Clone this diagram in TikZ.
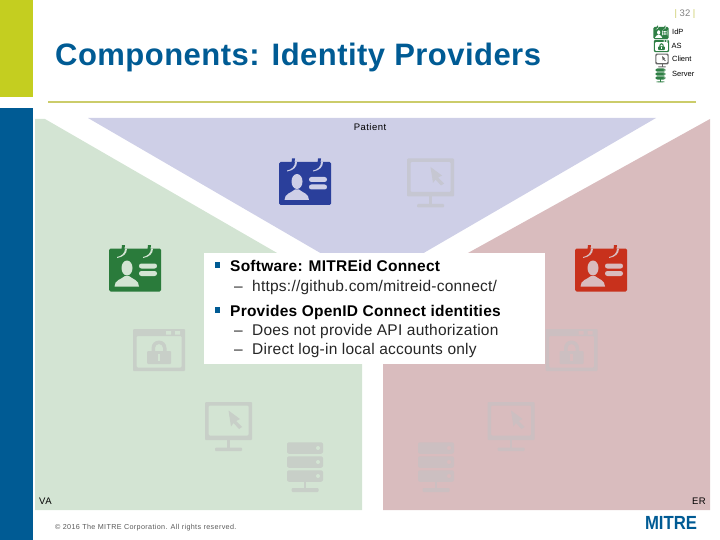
\documentclass[tikz,border=0pt]{standalone}
\usepackage{fontspec}
\setmainfont{Liberation Sans}
\newfontfamily\spacedfont[LetterSpace=1.5]{Liberation Sans}
\newfontfamily\smallfont[LetterSpace=5]{Liberation Sans}
\definecolor{mitreblue}{HTML}{005B94}
\definecolor{mitreolive}{HTML}{C4CE20}
\definecolor{ruleolive}{HTML}{CBCC6A}
\definecolor{vagreen}{HTML}{D3E4D3}
\definecolor{ptblue}{HTML}{CECFE7}
\definecolor{errose}{HTML}{D9BCBE}
\definecolor{idpgreen}{HTML}{2A7B3B}
\definecolor{idpblue}{HTML}{2A3F9B}
\definecolor{idpred}{HTML}{C8311C}
\definecolor{fadegreen}{HTML}{C8CFC8}
\definecolor{fadeblue}{HTML}{C6C7D2}
\definecolor{faderose}{HTML}{CCBFC1}
\definecolor{legendgreen}{HTML}{2F7F45}
\tikzset{
pics/badge/.style 2 args={code={
 \fill[#1,rounded corners=1.5] (-26,-21.5) rectangle (26,21.5);
 \foreach \cx in {-13,13}{
  \fill[#2] (\cx+3,-21.5) .. controls (\cx+3,-17) and (\cx,-14) .. (\cx-5,-13) -- (\cx-5,-12) .. controls (\cx+1,-13) and (\cx+5,-16) .. (\cx+5,-21.5) -- cycle;
  \fill[#1] (\cx,-25) -- (\cx+3,-25) .. controls (\cx+3,-19) and (\cx,-16) .. (\cx-5,-15) .. controls (\cx-2,-17) and (\cx,-20) .. (\cx,-25) -- cycle;
 }
 \fill[#2] (-8,-2) ellipse (5.5 and 7.5);
 \fill[#2] (-20.5,16.5) .. controls (-20.5,10) and (-14,9.5) .. (-10,6) -- (-6,6) .. controls (-2,9.5) and (4,10) .. (4,16.5) -- cycle;
 \fill[#2,rounded corners=2.4] (4,-6.5) rectangle (22,-1.5);
 \fill[#2,rounded corners=2.4] (4,1) rectangle (22,6);
}},
pics/monitor/.style 2 args={code={
 \fill[#1,even odd rule,rounded corners=1] (-23.5,-19) rectangle (23.5,19) (-20,-15.5) rectangle (20,14.5);
 \fill[#1] (-1.2,19) rectangle (1.2,29);
 \fill[#1,rounded corners=1] (-13.5,26.5) rectangle (13.5,30);
 \fill[#1] (0,-10.5) -- (11.5,-2) -- (7.5,0) -- (13.5,6) -- (10.5,8) -- (5,2) -- (2.5,5.5) -- cycle;
}},
pics/lockwin/.style 2 args={code={
 \fill[#1,even odd rule,rounded corners=1] (-26,-21) rectangle (26,21) (-22.5,-14) rectangle (22.5,17.5);
 \fill[#2] (7,-19) rectangle (12,-15.5) (16,-19) rectangle (21,-15.5);
 \fill[#1,even odd rule] (-7.5,-2) arc (180:360:7.5) -- (7.5,3) -- (-7.5,3) -- cycle (-4,-2) arc (180:360:4) -- (4,3) -- (-4,3) -- cycle;
 \fill[#1,rounded corners=1] (-12,1) rectangle (12,14);
 \fill[#2] (-1.2,4) rectangle (1.2,11);
}},
pics/rack/.style 2 args={code={
 \foreach \ry in {-14,0,14}{
  \fill[#1,rounded corners=2] (-18,\ry-5.75) rectangle (18,\ry+5.75);
  \fill[#2] (13,\ry) circle (2);
 }
 \fill[#1] (-1.2,19.5) rectangle (1.2,28);
 \fill[#1,rounded corners=1] (-13.5,26) rectangle (13.5,30);
}}
}
\begin{document}
\begin{tikzpicture}[x=1pt,y=-1pt,
site/.style={font=\smallfont\fontsize{9.5}{11}\selectfont,inner sep=0pt},
legend/.style={font=\fontsize{7.5}{9}\selectfont,inner sep=0pt,anchor=west},
lead/.style={font=\spacedfont\fontsize{15.5}{17}\selectfont\bfseries,inner sep=0pt,anchor=base west},
sub/.style={font=\spacedfont\fontsize{15.5}{17}\selectfont,text=black!85,inner sep=0pt,anchor=base west}
]
\useasboundingbox (0,0) rectangle (720,540);

\fill[mitreolive] (0,0) rectangle (33,97);
\fill[mitreblue] (0,108) rectangle (33,540);
\fill[ruleolive] (48,101) rectangle (696,103);

\fill[vagreen] (35,119) -- (45,119) -- (362,302) -- (362,510) -- (35,510) -- cycle;
\fill[ptblue] (88,118) -- (656,118) -- (372,283) -- cycle;
\fill[errose] (710,119) -- (710,510) -- (383,510) -- (383,300) -- cycle;

\pic at (305,183.5) {badge={idpblue}{ptblue}};
\pic at (430.5,177.5) {monitor={fadeblue}{ptblue}};
\pic at (135,270) {badge={idpgreen}{vagreen}};
\pic at (159,350) {lockwin={fadegreen}{vagreen}};
\pic at (228.5,421) {monitor={fadegreen}{vagreen}};
\pic at (305,462) {rack={fadegreen}{vagreen}};
\pic at (601,270) {badge={idpred}{errose}};
\pic at (571.5,350) {lockwin={faderose}{errose}};
\pic at (511,421) {monitor={faderose}{errose}};
\pic at (436,462) {rack={faderose}{errose}};

\fill[white] (204,253) rectangle (545,364);
\fill[mitreblue] (215,262) rectangle (220,268);
\fill[mitreblue] (215,307) rectangle (220,313);

\node[lead](software) at (230,271){Software: MITREid Connect};
\node[sub](dash1) at (234,291){–};
\node[sub](url) at (252,291){https://github.com/mitreid-connect/};
\node[lead](provides) at (230,316){Provides OpenID Connect identities};
\node[sub](dash2) at (234,335){–};
\node[sub](noapi) at (252,335){Does not provide API authorization};
\node[sub](dash3) at (234,354){–};
\node[sub](direct) at (252,354){Direct log-in local accounts only};

\node[anchor=base west,inner sep=0pt,text=mitreblue,font=\spacedfont\fontsize{31}{33}\selectfont\bfseries](title) at (55,66){Components: Identity Providers};
\node[inner sep=0pt,font=\fontsize{9.5}{11}\selectfont,text=black!50](pagenum) at (685,14){\textcolor{ruleolive}{|} 32 \textcolor{ruleolive}{|}};

\pic[scale=.29] at (661,33) {badge={legendgreen}{white}};
\pic[scale=.29] at (661.5,46) {lockwin={legendgreen}{white}};
\pic[scale=.28] at (662,59) {monitor={black!60}{white}};
\pic[scale=.28] at (660.5,74) {rack={legendgreen}{white}};
\node[legend](legend-idp) at (672,32){IdP};
\node[legend](legend-as) at (671.5,46){AS};
\node[legend](legend-client) at (672,59){Client};
\node[legend](legend-server) at (672,74){Server};

\node[site](patient) at (370,127){Patient};
\node[site,anchor=west](va) at (39,501.5){VA};
\node[site,anchor=east](er) at (706,501.5){ER};

\node[anchor=west,inner sep=0pt,text=black!65,font=\smallfont\fontsize{7.2}{9}\selectfont](copyright) at (55,528){© 2016 The MITRE Corporation. All rights reserved.};
\node[inner sep=0pt,text=mitreblue,font=\fontsize{19}{20}\selectfont\bfseries](logo) at (671,523){\scalebox{.88}[1]{MITRE}};
\end{tikzpicture}
\end{document}
